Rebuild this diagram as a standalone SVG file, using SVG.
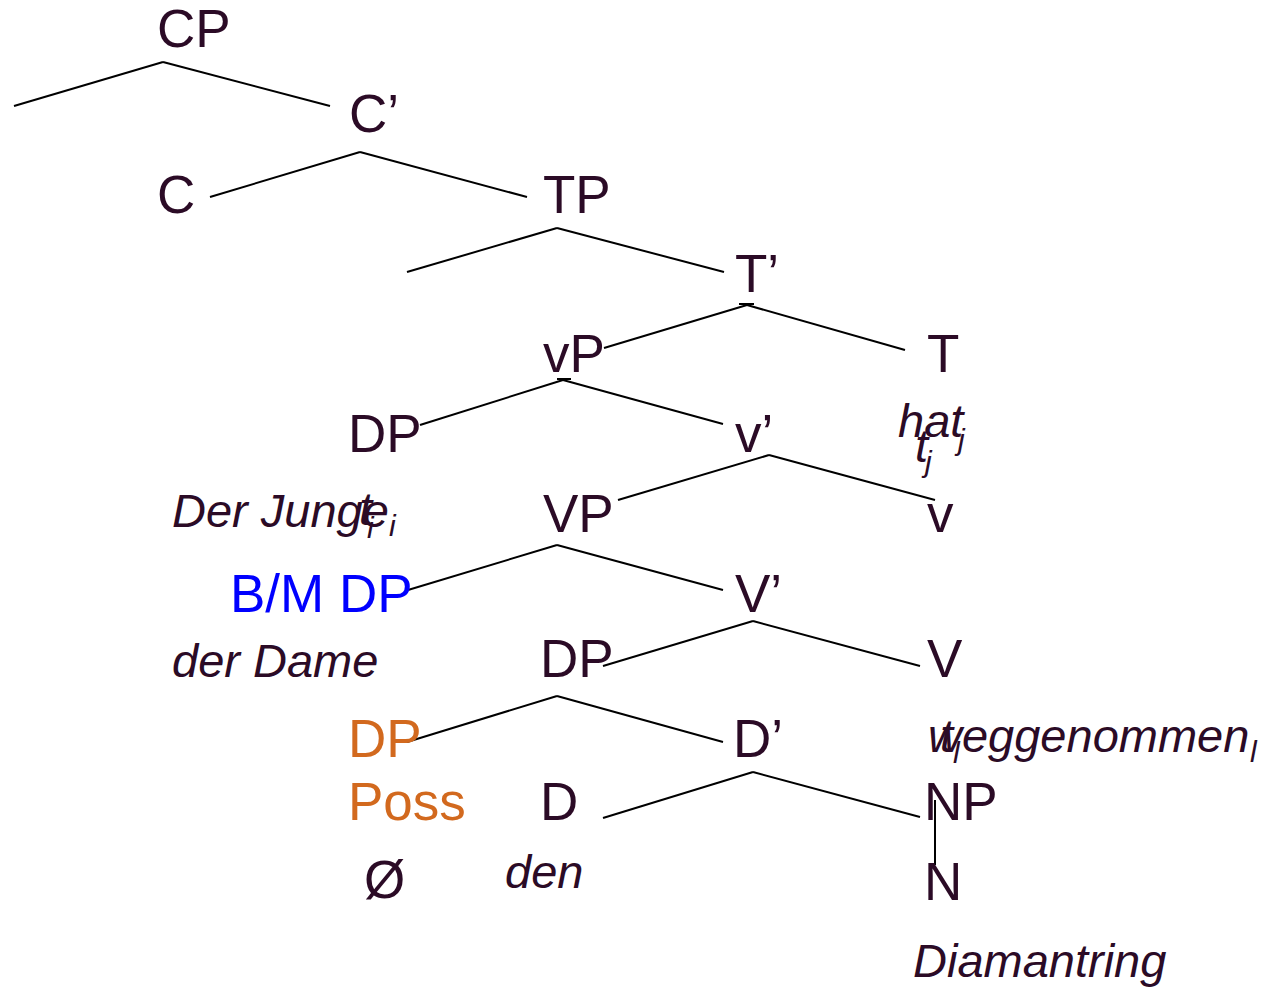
<svg xmlns="http://www.w3.org/2000/svg" width="1268" height="989" viewBox="0 0 1268 989">
  <style>
    .lbl { font-family: "Liberation Sans", Arial, sans-serif; font-size: 53px; fill: #2b0b26; }
    .wd { font-family: "Liberation Sans", Arial, sans-serif; font-size: 47px; font-style: italic; fill: #2b0b26; }
    .sub { font-family: "Liberation Sans", Arial, sans-serif; font-size: 30px; font-style: italic; fill: #2b0b26; }
    .blue { fill: #0000ff; }
    .orange { fill: #d2691e; }
    .edges line { stroke: #000; stroke-width: 2; stroke-linecap: butt; }
  </style>
  <rect width="1268" height="989" fill="#fff"/>

  <!-- branches -->
  <g id="edges" class="edges">
    <line x1="163" y1="62" x2="14" y2="106"/>
    <line x1="163" y1="62" x2="330" y2="106"/>
    <line x1="360" y1="152" x2="210" y2="197"/>
    <line x1="360" y1="152" x2="527" y2="197"/>
    <line x1="557" y1="228" x2="407" y2="272"/>
    <line x1="557" y1="228" x2="724" y2="272"/>
    <line x1="747" y1="305" x2="604" y2="348"/>
    <line x1="747" y1="305" x2="905" y2="350"/>
    <line x1="739" y1="304" x2="754" y2="304"/>
    <line x1="563" y1="380" x2="420" y2="425"/>
    <line x1="563" y1="380" x2="723" y2="424"/>
    <line x1="557" y1="379" x2="571" y2="379"/>
    <line x1="769" y1="455" x2="618" y2="500"/>
    <line x1="769" y1="455" x2="935" y2="500"/>
    <line x1="557" y1="545" x2="408" y2="590"/>
    <line x1="557" y1="545" x2="723" y2="590"/>
    <line x1="753" y1="621" x2="603" y2="666"/>
    <line x1="753" y1="621" x2="920" y2="666"/>
    <line x1="557" y1="696" x2="407" y2="742"/>
    <line x1="557" y1="696" x2="723" y2="742"/>
    <line x1="753" y1="772" x2="603" y2="818"/>
    <line x1="753" y1="772" x2="920" y2="817"/>
    <line x1="935" y1="800" x2="935" y2="865"/>
  </g>

  <g id="n-cp"><text class="lbl" x="157" y="47">CP</text></g>
  <g id="n-cbar"><text class="lbl" x="349" y="132">C’</text></g>
  <g id="n-c"><text class="lbl" x="157" y="213">C</text></g>
  <g id="n-tp"><text class="lbl" x="543" y="213">TP</text></g>
  <g id="n-tbar"><text class="lbl" x="735" y="292">T’</text></g>
  <g id="n-vp-small"><text class="lbl" x="543" y="372">vP</text></g>
  <g id="n-t"><text class="lbl" x="927" y="372">T</text></g>
  <g id="n-t-word">
    <text class="wd" x="898" y="437">hat</text><text class="sub" x="958" y="450">j</text>
    <text class="wd" x="915" y="462">t</text><text class="sub" x="925" y="472">j</text>
  </g>
  <g id="n-dp-subj"><text class="lbl" x="348" y="452">DP</text></g>
  <g id="n-vbar-small"><text class="lbl" x="735" y="452">v’</text></g>
  <g id="n-subj-word">
    <text class="wd" x="172" y="527">Der Junge</text><text class="sub" x="389" y="536">i</text>
    <text class="wd" x="359" y="525">t</text><text class="sub" x="367" y="538">i</text>
  </g>
  <g id="n-vp"><text class="lbl" x="543" y="532">VP</text></g>
  <g id="n-v-small"><text class="lbl" x="927" y="532">v</text></g>
  <g id="n-bm-dp"><text class="lbl blue" x="230" y="612">B/M DP</text></g>
  <g id="n-vbar"><text class="lbl" x="735" y="612">V’</text></g>
  <g id="n-bm-word"><text class="wd" x="172" y="677">der Dame</text></g>
  <g id="n-dp-obj"><text class="lbl" x="540" y="677">DP</text></g>
  <g id="n-v"><text class="lbl" x="927" y="677">V</text></g>
  <g id="n-v-word">
    <text class="wd" x="928" y="752">weggenommen</text><text class="sub" x="1250" y="762">l</text>
    <text class="wd" x="940" y="752">t</text><text class="sub" x="953" y="763">l</text>
  </g>
  <g id="n-dp-poss"><text class="lbl orange" x="348" y="757">DP</text></g>
  <g id="n-dbar"><text class="lbl" x="733" y="757">D’</text></g>
  <g id="n-poss"><text class="lbl orange" x="348" y="820">Poss</text></g>
  <g id="n-d"><text class="lbl" x="540" y="820">D</text></g>
  <g id="n-np"><text class="lbl" x="924" y="820">NP</text></g>
  <g id="n-null"><text class="lbl" x="364" y="898">Ø</text></g>
  <g id="n-d-word"><text class="wd" x="505" y="888">den</text></g>
  <g id="n-n"><text class="lbl" x="924" y="900">N</text></g>
  <g id="n-n-word"><text class="wd" x="913" y="977">Diamantring</text></g>
</svg>
